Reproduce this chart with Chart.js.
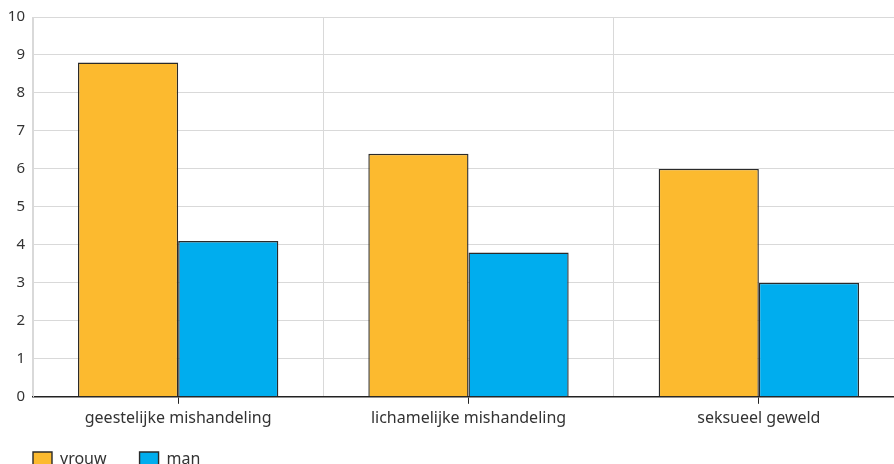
<!DOCTYPE html>
<html>
<head>
<meta charset="utf-8">
<script src="https://cdn.jsdelivr.net/npm/chart.js@4/dist/chart.umd.min.js"></script>
<style>
html,body{margin:0;padding:0;overflow:hidden;background:#fff;width:894px;height:464px;}
#wrap{position:absolute;left:0;top:0;width:904px;height:477px;}
</style>
</head>
<body>
<div id="wrap"><canvas id="c" width="904" height="477"></canvas></div>
<script>
const categories = ['geestelijke mishandeling', 'lichamelijke mishandeling', 'seksueel geweld'];
const vrouw = [8.8, 6.4, 6.0];
const man = [4.1, 3.8, 3.0];
const seriesNames = ['vrouw', 'man'];
const yMin = 0, yMax = 10, yStep = 1;

const FONT = '"Noto Sans", sans-serif';
const GRID = '#d9d9d9';
const TEXT = '#333333';

new Chart(document.getElementById('c'), {
  type: 'bar',
  data: {
    labels: categories,
    datasets: [
      { label: seriesNames[0], data: vrouw, backgroundColor: '#FCBA2F', borderColor: '#2a2a2a', borderWidth: 1.4, categoryPercentage: 0.69, barPercentage: 1.0, xAxisID: 'x', borderSkipped: 'bottom' },
      { label: seriesNames[1], data: man, backgroundColor: '#00ADEE', borderColor: '#2a2a2a', borderWidth: 1.4, categoryPercentage: 0.69, barPercentage: 1.0, xAxisID: 'x', borderSkipped: 'bottom' }
    ]
  },
  options: {
    responsive: false,
    animation: false,
    devicePixelRatio: 1,
    layout: { padding: { top: 13, right: 0, left: 0, bottom: 0 } },
    plugins: {
      tooltip: { enabled: false },
      legend: {
        position: 'bottom',
        align: 'start',
        labels: {
          boxWidth: 19, boxHeight: 14, padding: 33,
          color: TEXT,
          font: { family: FONT, size: 16 }
        }
      }
    },
    scales: {
      x: {
        type: 'category',
        position: 'bottom',
        weight: 1,
        offset: true,
        afterFit: (s) => { s.height -= 15; s._computeLabelArea = function () { return undefined; }; },
        grid: { offset: true, color: GRID, lineWidth: 1, drawTicks: false },
        border: { display: false },
        ticks: { color: TEXT, font: { family: FONT, size: 16 }, padding: 5, maxRotation: 0 }
      },
      x2: {
        type: 'category',
        position: 'bottom',
        weight: 0,
        offset: true,
        labels: categories,
        grid: { offset: false, drawOnChartArea: false, drawTicks: true, tickLength: 7, color: '#222', lineWidth: 1 },
        border: { display: true, color: '#222', width: 1.5 },
        ticks: { display: false }
      },
      y: {
        min: yMin, max: yMax,
        afterFit: (s) => { s.width = 33; },
        grid: { color: GRID, lineWidth: 1, drawTicks: false },
        border: { display: true, color: GRID },
        ticks: { stepSize: yStep, color: TEXT, font: { family: FONT, size: 15 }, padding: 8 }
      }
    }
  }
});
</script>
</body>
</html>
